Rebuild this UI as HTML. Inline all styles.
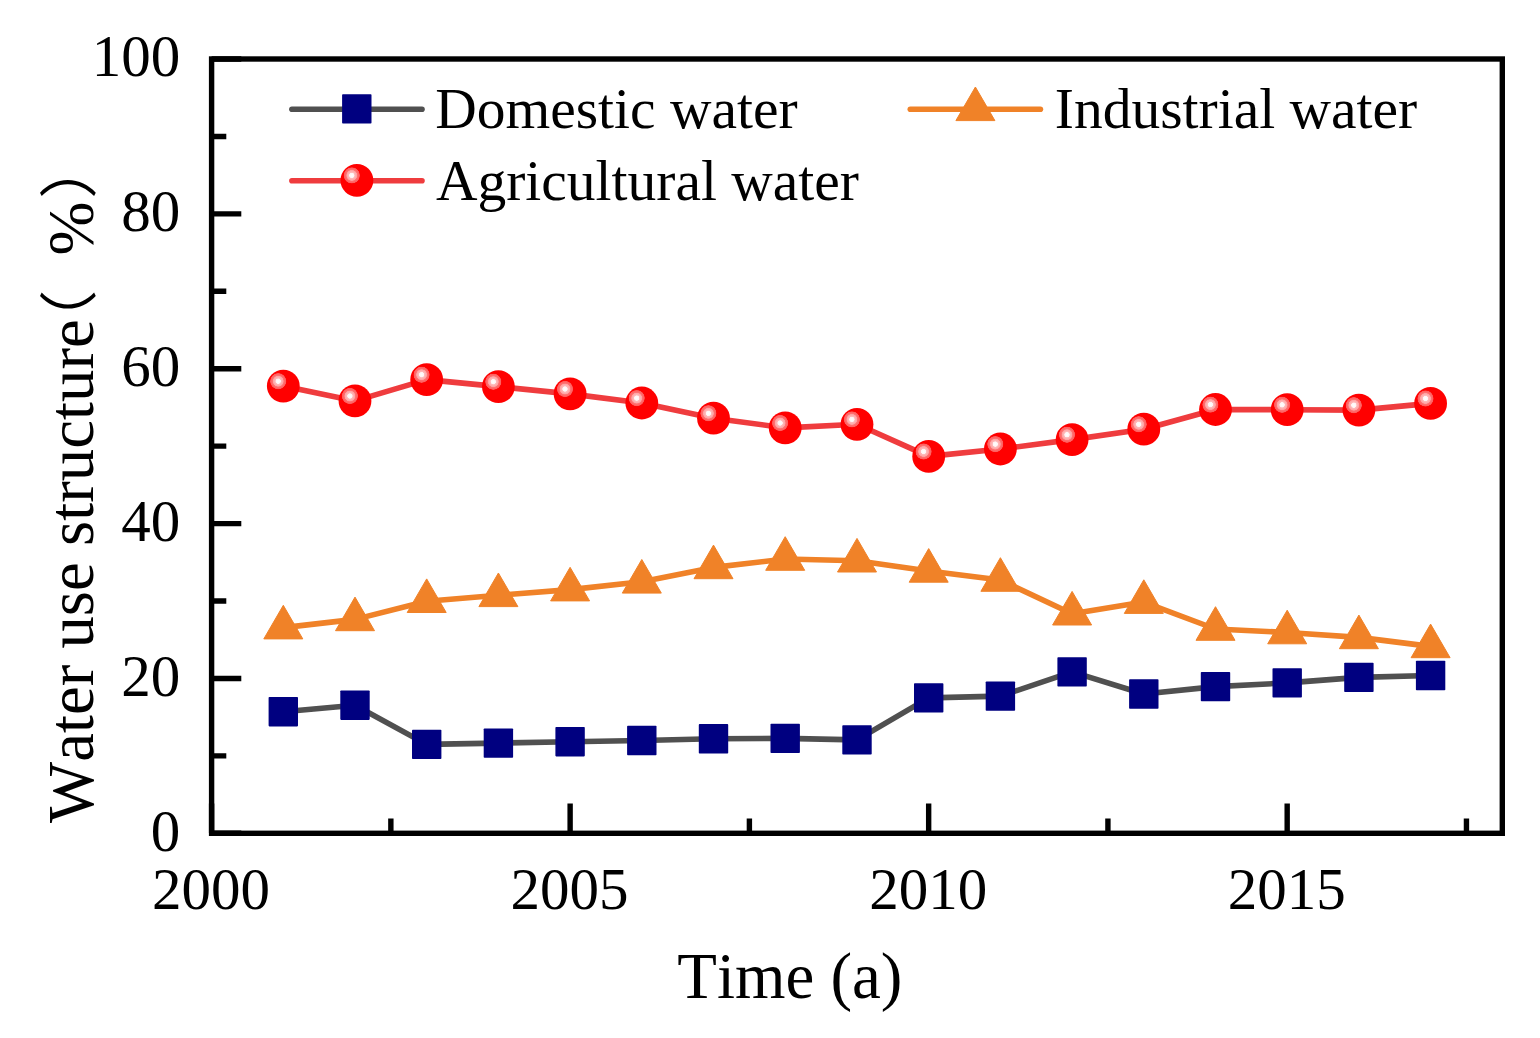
<!DOCTYPE html>
<html lang="en"><head><meta charset="utf-8"><title>Water use structure</title>
<style>html,body{margin:0;padding:0;background:#fff}body{width:1540px;height:1038px;overflow:hidden}svg{display:block}text{font-family:"Liberation Serif","Noto Sans CJK SC",serif;fill:#000;font-kerning:none}.cjk{font-family:"Liberation Serif","Noto Sans CJK SC",sans-serif}</style></head><body>
<svg width="1540" height="1038" viewBox="0 0 1540 1038">
<defs><radialGradient id="hl" cx="0.5" cy="0.5" r="0.5"><stop offset="0" stop-color="#fff"/><stop offset="0.29" stop-color="#fff4f4"/><stop offset="0.35" stop-color="#ffbcbc"/><stop offset="0.62" stop-color="#ffa2a2"/><stop offset="0.68" stop-color="#ff7272"/><stop offset="0.95" stop-color="#ff5c5c"/><stop offset="1" stop-color="#ff1010"/></radialGradient>
<g id="ball"><circle r="16.4" fill="#ff0000"/><circle cx="-5.1" cy="-4.9" r="8.2" fill="url(#hl)"/></g>
<rect id="sq" x="-14.7" y="-14.7" width="29.4" height="29.4" rx="0.8" fill="#000080"/>
<path id="tri" d="M0,-22.3 L19.5,11.3 L-19.5,11.3 Z" fill="#f08228" stroke="#f08228" stroke-width="1" stroke-linejoin="round"/>
</defs>
<rect width="1540" height="1038" fill="#fff"/>
<path d="M211.6,833.30h29.7 M211.6,755.87h14.7 M211.6,678.44h29.7 M211.6,601.01h14.7 M211.6,523.58h29.7 M211.6,446.15h14.7 M211.6,368.72h29.7 M211.6,291.29h14.7 M211.6,213.86h29.7 M211.6,136.43h14.7 M211.6,59.00h29.7 M211.60,833.3v-29.7 M390.86,833.3v-14.7 M570.13,833.3v-29.7 M749.39,833.3v-14.7 M928.66,833.3v-29.7 M1107.92,833.3v-14.7 M1287.18,833.3v-29.7 M1466.45,833.3v-14.7" stroke="#000" stroke-width="5.4" fill="none"/>
<rect x="211.6" y="59.0" width="1290.7" height="774.3" fill="none" stroke="#000" stroke-width="5.4"/>
<polyline points="283.3,711.7 355.0,705.2 426.7,744.4 498.4,743.1 570.1,741.7 641.8,740.5 713.5,738.8 785.2,738.4 857.0,739.9 928.7,697.9 1000.4,696.1 1072.1,671.9 1143.8,694.0 1215.5,686.6 1287.2,682.9 1358.9,677.4 1430.6,675.5" fill="none" stroke="#505050" stroke-width="5.6" stroke-linejoin="round" stroke-linecap="round"/>
<g><use href="#sq" x="283.3" y="711.7"/><use href="#sq" x="355.0" y="705.2"/><use href="#sq" x="426.7" y="744.4"/><use href="#sq" x="498.4" y="743.1"/><use href="#sq" x="570.1" y="741.7"/><use href="#sq" x="641.8" y="740.5"/><use href="#sq" x="713.5" y="738.8"/><use href="#sq" x="785.2" y="738.4"/><use href="#sq" x="857.0" y="739.9"/><use href="#sq" x="928.7" y="697.9"/><use href="#sq" x="1000.4" y="696.1"/><use href="#sq" x="1072.1" y="671.9"/><use href="#sq" x="1143.8" y="694.0"/><use href="#sq" x="1215.5" y="686.6"/><use href="#sq" x="1287.2" y="682.9"/><use href="#sq" x="1358.9" y="677.4"/><use href="#sq" x="1430.6" y="675.5"/></g>
<polyline points="283.3,627.6 355.0,619.4 426.7,601.2 498.4,595.3 570.1,589.6 641.8,581.8 713.5,567.4 785.2,559.0 857.0,560.7 928.7,570.9 1000.4,580.0 1072.1,613.7 1143.8,602.1 1215.5,629.0 1287.2,632.5 1358.9,637.4 1430.6,646.4" fill="none" stroke="#f08228" stroke-width="5.6" stroke-linejoin="round" stroke-linecap="round"/>
<g><use href="#tri" x="283.3" y="627.6"/><use href="#tri" x="355.0" y="619.4"/><use href="#tri" x="426.7" y="601.2"/><use href="#tri" x="498.4" y="595.3"/><use href="#tri" x="570.1" y="589.6"/><use href="#tri" x="641.8" y="581.8"/><use href="#tri" x="713.5" y="567.4"/><use href="#tri" x="785.2" y="559.0"/><use href="#tri" x="857.0" y="560.7"/><use href="#tri" x="928.7" y="570.9"/><use href="#tri" x="1000.4" y="580.0"/><use href="#tri" x="1072.1" y="613.7"/><use href="#tri" x="1143.8" y="602.1"/><use href="#tri" x="1215.5" y="629.0"/><use href="#tri" x="1287.2" y="632.5"/><use href="#tri" x="1358.9" y="637.4"/><use href="#tri" x="1430.6" y="646.4"/></g>
<polyline points="283.3,386.1 355.0,400.9 426.7,379.6 498.4,386.6 570.1,393.9 641.8,403.0 713.5,418.2 785.2,427.9 857.0,424.3 928.7,456.4 1000.4,449.0 1072.1,439.6 1143.8,429.2 1215.5,409.5 1287.2,409.7 1358.9,410.1 1430.6,403.4" fill="none" stroke="#ef3c3e" stroke-width="5.6" stroke-linejoin="round" stroke-linecap="round"/>
<g><use href="#ball" x="283.3" y="386.1"/><use href="#ball" x="355.0" y="400.9"/><use href="#ball" x="426.7" y="379.6"/><use href="#ball" x="498.4" y="386.6"/><use href="#ball" x="570.1" y="393.9"/><use href="#ball" x="641.8" y="403.0"/><use href="#ball" x="713.5" y="418.2"/><use href="#ball" x="785.2" y="427.9"/><use href="#ball" x="857.0" y="424.3"/><use href="#ball" x="928.7" y="456.4"/><use href="#ball" x="1000.4" y="449.0"/><use href="#ball" x="1072.1" y="439.6"/><use href="#ball" x="1143.8" y="429.2"/><use href="#ball" x="1215.5" y="409.5"/><use href="#ball" x="1287.2" y="409.7"/><use href="#ball" x="1358.9" y="410.1"/><use href="#ball" x="1430.6" y="403.4"/></g>
<line x1="291.9" y1="109.2" x2="422.0" y2="109.2" stroke="#505050" stroke-width="5.6" stroke-linecap="round"/>
<use href="#sq" x="356.8" y="108.9"/>
<line x1="291.9" y1="180.7" x2="422.0" y2="180.7" stroke="#ef3c3e" stroke-width="5.6" stroke-linecap="round"/>
<use href="#ball" x="356.9" y="180.3"/>
<line x1="910.3" y1="109.2" x2="1040.4" y2="109.2" stroke="#f08228" stroke-width="5.6" stroke-linecap="round"/>
<use href="#tri" x="975.4" y="109.3"/>
<g font-size="57.5">
<text x="435.2" y="127.6">Domestic water</text>
<text x="435.9" y="199.8">Agricultural water</text>
<text x="1054.8" y="127.6">Industrial water</text>
</g>
<g font-size="59.0" text-anchor="end">
<text x="180.2" y="850.7">0</text>
<text x="180.2" y="695.8">20</text>
<text x="180.2" y="541.0">40</text>
<text x="180.2" y="386.1">60</text>
<text x="180.2" y="231.3">80</text>
<text x="180.2" y="76.4">100</text>
</g>
<g font-size="59.0" text-anchor="middle">
<text x="211.1" y="909.2">2000</text>
<text x="569.6" y="909.2">2005</text>
<text x="928.2" y="909.2">2010</text>
<text x="1286.7" y="909.2">2015</text>
</g>
<text x="789.9" y="997.9" font-size="64.9" text-anchor="middle">Time (a)</text>
<g transform="translate(93.1,0) rotate(-90)" font-size="64.8">
<text x="-823" y="0">Water use structure</text>
<text class="cjk" transform="translate(-300.4,0) scale(1.08,1) translate(300.4,0)" x="-349.0" y="-2.7" font-size="58.7" font-weight="350">（</text>
<text x="-255.4" y="0">%</text>
<text class="cjk" transform="translate(-188.05,0) scale(1.08,1) translate(188.05,0)" x="-198.2" y="-2.7" font-size="58.7" font-weight="350">）</text>
</g>
</svg></body></html>
